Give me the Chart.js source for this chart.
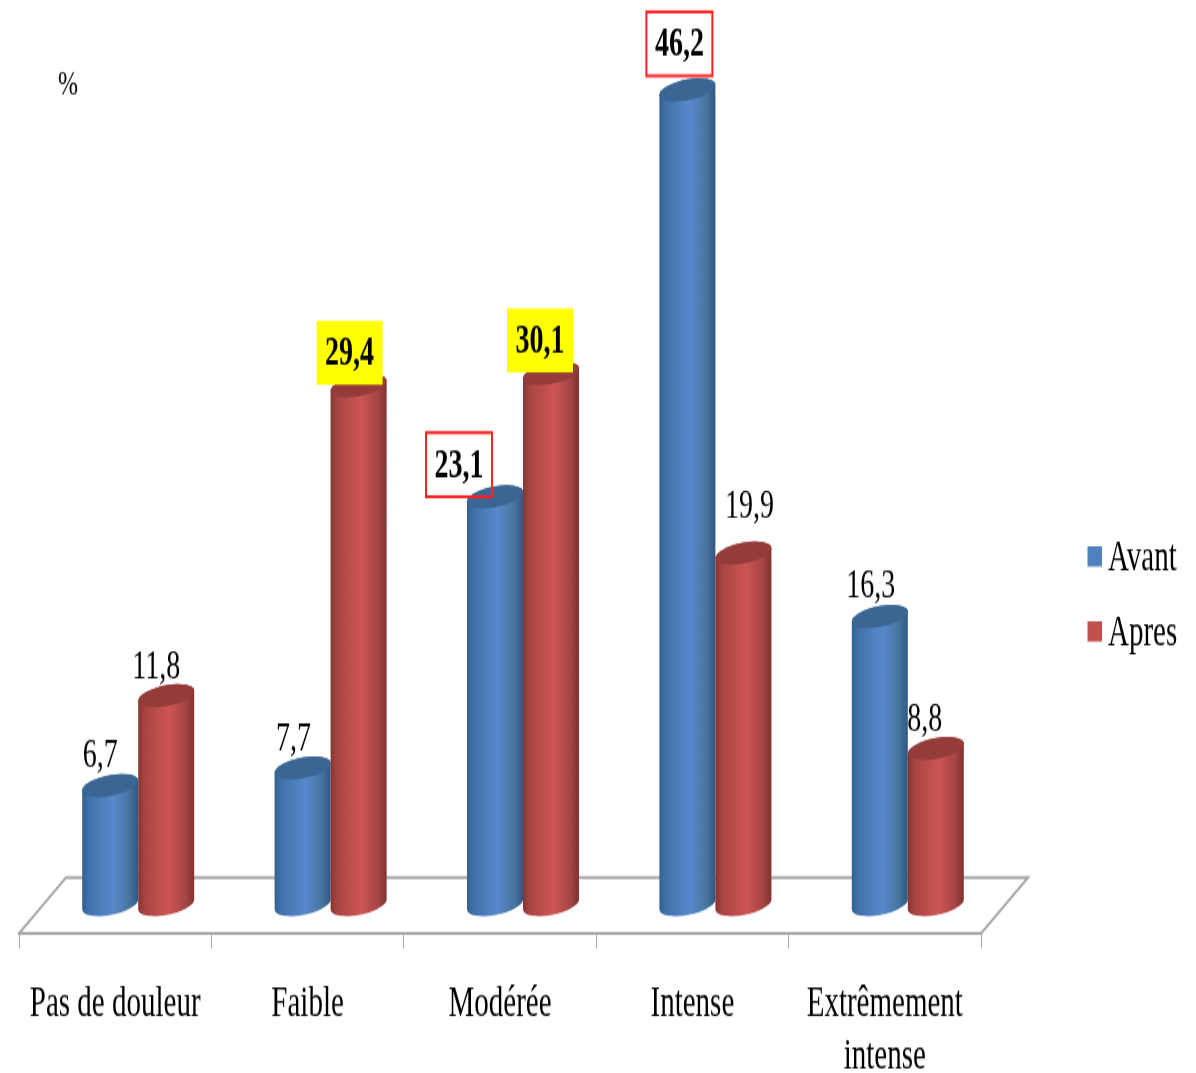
<!DOCTYPE html>
<html><head><meta charset="utf-8">
<script src="https://cdn.jsdelivr.net/npm/chart.js@4"></script>
<style>
html,body{margin:0;padding:0;background:#fff;overflow:hidden}
#wrap{width:1196px;height:1073px;overflow:hidden}
canvas{display:block;transform-origin:0 0}
</style></head><body>
<div id="wrap"><canvas id="c" width="1196" height="715"></canvas></div>
<script>
const categories = ['Pas de douleur','Faible','Modérée','Intense',['Extrêmement','intense']];
const avant = [6.7,7.7,23.1,46.2,16.3];
const apres = [11.8,29.4,30.1,19.9,8.8];
const seriesNames = ['Avant','Apres'];
const seriesColors = ['#4f81bd','#c0504d'];
const unitLabel = '%';

const VS = 1073/715;             // the source picture is stretched vertically
const SHIFT = 23;                // columns stand on the receding floor
const FONT = '"Liberation Serif"';

// label placement relative to the top of each column (screen px), and highlight
const labelOffsets = [
  [[-10,-31],[-9,-29],[-36,-32],[-8,-46],[-9,-31]],
  [[-10,-29],[-9,-33],[-11,-33],[6,-47],[-11,-30]]
];
const highlights = [
  [null,null,'box',  'box',  null],
  [null,'fill','fill',null,  null]
];
const paints = [
  {stops:[[0,'#33608f'],[.12,'#4272ab'],[.55,'#5789cb'],[.85,'#46749f'],[1,'#305780']],cap:'#3b6592'},
  {stops:[[0,'#853533'],[.12,'#a84644'],[.55,'#cd5553'],[.85,'#a44543'],[1,'#7f3331']],cap:'#933c3a'}
];

function swatch(color){
  const s=document.createElement('canvas');s.width=17;s.height=18;
  const g=s.getContext('2d');g.fillStyle=color;g.fillRect(3,0,14,14);return s;
}
const swatches = seriesColors.map(swatch);

const cylinderPlugin = {
  id:'cylinders',
  afterLayout(chart){
    const l=chart.legend;
    const w=l.right-l.left,h=l.bottom-l.top;
    l.left=1071.5;l.right=l.left+w;
    l.top=337;l.bottom=l.top+h;
  },
  beforeDatasetsDraw(chart){
    const {ctx,chartArea:a}=chart;
    const dx=47,dy=56/VS;
    ctx.save();
    ctx.strokeStyle='#a8a8a8';ctx.lineWidth=2;
    ctx.beginPath();
    ctx.moveTo(a.left,a.bottom);
    ctx.lineTo(a.left+dx,a.bottom-dy);
    ctx.lineTo(a.right+dx,a.bottom-dy);
    ctx.lineTo(a.right,a.bottom);
    ctx.stroke();
    ctx.restore();
    // Avant first, Apres over it
    chart.data.datasets.forEach((ds,i)=>{
      const p=paints[i];
      chart.getDatasetMeta(i).data.forEach(el=>{
        const r=el.width/2,b=10.5/VS,d=5/VS,top=el.y,base=el.base+1/VS;
        ctx.save();
        ctx.translate(SHIFT,0);
        ctx.transform(1,-d/r,0,1,el.x,0);
        const g=ctx.createLinearGradient(-r,0,r,0);
        p.stops.forEach(s=>g.addColorStop(s[0],s[1]));
        ctx.beginPath();
        ctx.moveTo(-r,top);
        ctx.lineTo(-r,base);
        ctx.ellipse(0,base,r,b,0,Math.PI,0,true);
        ctx.lineTo(r,top);
        ctx.ellipse(0,top,r,b,0,0,Math.PI,true);
        ctx.closePath();
        ctx.fillStyle=g;ctx.fill();
        ctx.beginPath();
        ctx.ellipse(0,top,r,b,0,0,Math.PI*2);
        ctx.fillStyle=p.cap;ctx.fill();
        ctx.restore();
      });
    });
  },
  beforeDatasetDraw(){ return false; },
  afterDatasetsDraw(chart){
    const {ctx}=chart;
    ctx.save();
    ctx.textAlign='center';ctx.textBaseline='middle';
    chart.data.datasets.forEach((ds,i)=>{
      chart.getDatasetMeta(i).data.forEach((el,j)=>{
        const o=labelOffsets[i][j],h=highlights[i][j];
        const x=el.x+SHIFT+o[0],y=el.y+o[1]/VS;
        const bw=66,bh=64/VS;
        if(h==='fill'){ctx.fillStyle='#ffff00';ctx.fillRect(x-bw/2,y-bh/2,bw,bh);}
        if(h==='box'){ctx.strokeStyle='#ff2020';ctx.lineWidth=2;ctx.strokeRect(x-bw/2,y-bh/2,bw,bh);}
        ctx.fillStyle='#000';
        ctx.font=(h?'bold ':'')+'28px '+FONT;
        ctx.fillText(String(ds.data[j]).replace('.',','),x,y+1/VS);
      });
    });
    ctx.font='24px '+FONT;
    ctx.fillText(unitLabel,68,85/VS);
    ctx.restore();
  }
};

const chart = new Chart(document.getElementById('c'),{
  type:'bar',
  data:{labels:categories,datasets:[
    {label:seriesNames[0],data:avant,backgroundColor:seriesColors[0],barThickness:56},
    {label:seriesNames[1],data:apres,backgroundColor:seriesColors[1],barThickness:56}
  ]},
  options:{
    responsive:false,animation:false,devicePixelRatio:1,events:[],
    layout:{padding:{left:19,right:215,top:0,bottom:0}},
    scales:{
      x:{
        grid:{display:true,drawOnChartArea:false,drawTicks:true,tickLength:10,color:'#a8a8a8',lineWidth:1},
        border:{display:true,color:'#a8a8a8',width:2},
        ticks:{color:'#000',font:{family:FONT,size:29,lineHeight:1.2},padding:20,autoSkip:false,maxRotation:0,minRotation:0},
        afterFit(s){s.height=93;}
      },
      y:{display:false,min:-1.7,max:51.3,grid:{display:false}}
    },
    plugins:{
      tooltip:{enabled:false},title:{display:false},
      legend:{
        position:'chartArea',align:'start',
        labels:{
          usePointStyle:true,boxWidth:1,boxHeight:14,padding:21,color:'#000',
          font:{family:FONT,size:29},
          generateLabels(){return seriesNames.map((t,i)=>({text:t,pointStyle:swatches[i],fillStyle:seriesColors[i],strokeStyle:seriesColors[i],lineWidth:0,hidden:false,datasetIndex:i,fontColor:'#000'}));}
        }
      }
    }
  },
  plugins:[cylinderPlugin]
});
const cv=document.getElementById('c');
cv.style.transform='scale(1,'+VS+')';
</script>
</body></html>
